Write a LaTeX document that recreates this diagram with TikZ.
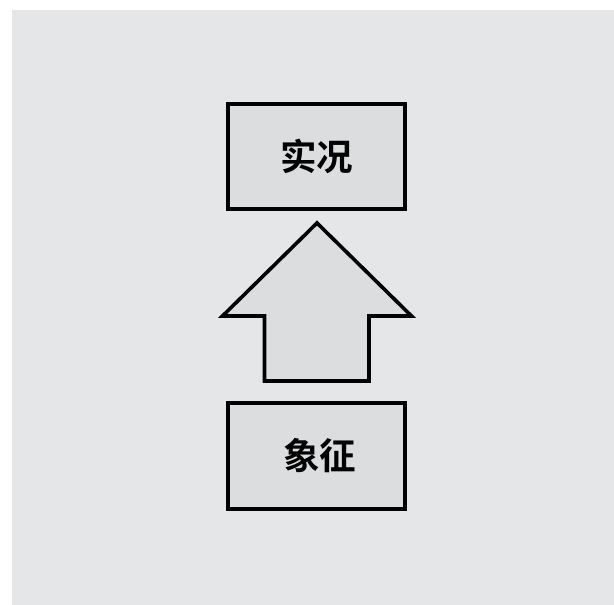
\documentclass[tikz,border=0pt]{standalone}
\usepackage{fontspec}
\newfontfamily\cjkbold{Noto Sans CJK SC Bold}
\definecolor{bgcol}{HTML}{E5E6E8}
\definecolor{boxcol}{HTML}{DCDDDF}
\newcommand{\lowtext}[1]{\raisebox{-3.5pt}{#1}}
\begin{document}
\begin{tikzpicture}[x=1pt,y=-1pt,
  termbox/.style={draw=black, line width=3.6pt, fill=boxcol, minimum width=177.5pt, minimum height=105.5pt, inner sep=0pt, font=\cjkbold\fontsize{36.5pt}{40pt}\selectfont},
  bigarrow/.style={draw=black, line width=3.6pt, fill=boxcol, line join=miter}]
\useasboundingbox (0,0) rectangle (614,605);
\fill[white] (0,0) rectangle (614,605);
\fill[bgcol] (12,10) rectangle (614,605);
\node[termbox] (top) at (316.5,156.5) {\lowtext{实况}};
\node[termbox] (bottom) at (316.5,456) {\hspace*{6pt}\lowtext{象征}};
\coordinate (tip) at (317,223);
\draw[bigarrow] (tip) -- (222.5,316) -- (264.5,316) -- (264.5,381) -- (369,381) -- (369,316) -- (411.5,316) -- cycle;
\end{tikzpicture}
\end{document}
